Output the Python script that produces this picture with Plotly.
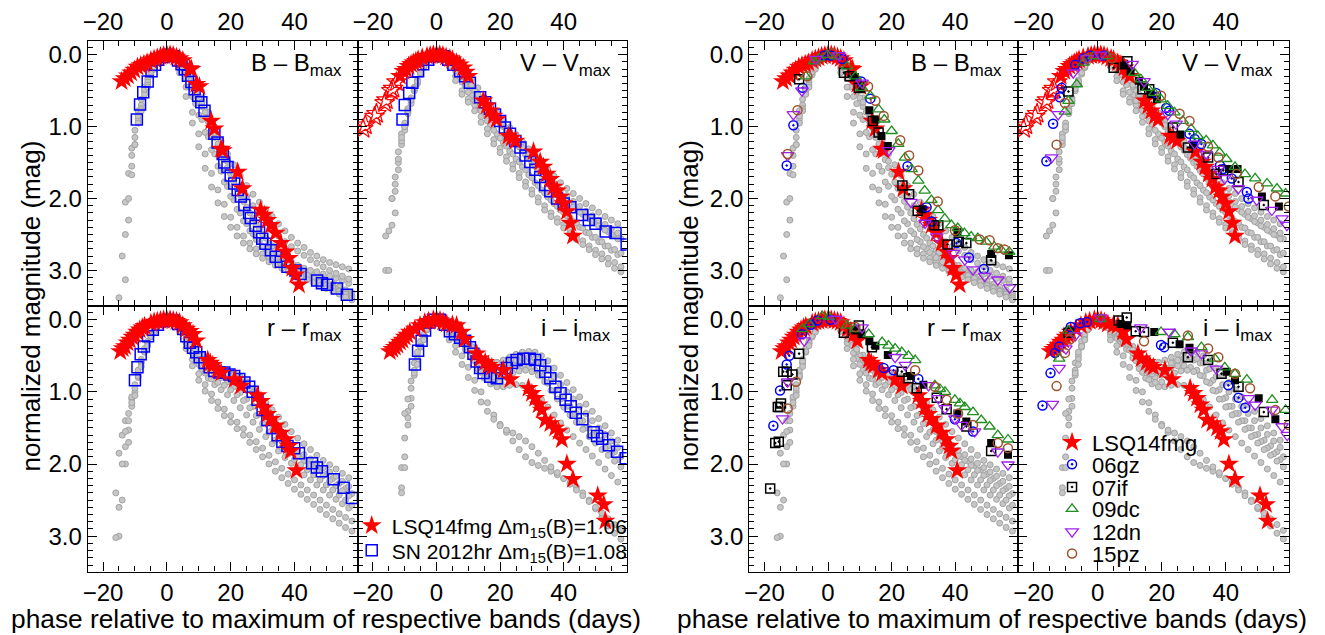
import plotly.graph_objects as go

# the page body adds an 8px margin, so the figure is drawn 8px in from the corner
OFF = 8
W, H = 1325 - OFF, 635 - OFF
FONT = "Liberation Sans, Arial, sans-serif"
BANDS = ["B", "V", "r", "i"]

# ---- grey comparison sample (phases on two interleaved grids) ----
GRID_ODD = list(range(-15, 58, 2))
GRID_EVEN = list(range(-16, 60, 2))

grey_B = [
    [3.38, 2.05, 1.30, 0.78, 0.45, 0.22, 0.08, 0.01, 0.01, 0.04, 0.12, 0.24, 0.40, 0.60, 0.80, 1.00, 1.20, 1.38,
     1.53, 1.68, 1.82, 1.94, 2.05, 2.15, 2.25, 2.35, 2.45, 2.54, 2.62, 2.68, 2.75, 2.80, 2.85, 2.89, 2.92, 2.95, 2.98],
    [None, 2.80, 1.65, 1.05, 0.62, 0.33, 0.14, 0.03, 0.00, 0.02, 0.10, 0.25, 0.42, 0.60, 0.80, 1.02, 1.24, 1.46, 1.66,
     1.86, 2.04, 2.20, 2.36, 2.50, 2.62, 2.72, 2.80, 2.87, 2.93, 2.98, 3.02, 3.07, 3.11, 3.15, 3.19, 3.23, 3.27, 3.31],
    [None, 3.13, 1.55, 0.90, 0.50, 0.25, 0.10, 0.02, 0.01, 0.08, 0.22, 0.45, 0.68, 0.90, 1.14, 1.38, 1.62, 1.83,
     2.02, 2.20, 2.35, 2.49, 2.60, 2.70, 2.78, 2.85, 2.91, 2.97, 3.02, 3.06, 3.10, 3.14, 3.18, 3.22, 3.26, 3.30, 3.34],
    [None, None, 2.00, 1.15, 0.70, 0.38, 0.16, 0.05, 0.01, 0.04, 0.18, 0.45, 0.80, 1.10, 1.38, 1.65, 1.88, 2.08, 2.26,
     2.40, 2.52, 2.62, 2.70, 2.77, 2.83, 2.88, 2.92, 2.96, 3.00, 3.04, 3.08, 3.12, 3.16, 3.20, 3.24, 3.28, 3.31, 3.35],
    [None, 2.50, 1.67, 0.95, 0.55, 0.28, 0.10, 0.02, 0.02, 0.06, 0.17, 0.33, 0.52, 0.72, 0.93, 1.15, 1.37, 1.57,
     1.77, 1.95, 2.12, 2.28, 2.42, 2.55, 2.66, 2.75, 2.82, 2.88, 2.93, 2.97, 3.00, 3.02, 3.05, 3.08, 3.11, 3.14, 3.18],
    [None, None, 2.30, 1.25, 0.75, 0.42, 0.18, 0.06, 0.01, 0.03, 0.13, 0.33, 0.58, 0.84, 1.08, 1.32, 1.55, 1.77, 1.97,
     2.15, 2.31, 2.45, 2.57, 2.67, 2.75, 2.82, 2.88, 2.93, 2.98, 3.03, 3.07, 3.11, 3.16, 3.21, 3.25, 3.29, 3.33, 3.38],
    [None, None, 1.40, 0.85, 0.48, 0.24, 0.09, 0.02, 0.01, 0.05, 0.14, 0.28, 0.46, 0.66, 0.87, 1.08, 1.29, 1.48,
     1.66, 1.82, 1.97, 2.10, 2.22, 2.33, 2.43, 2.52, 2.60, 2.67, 2.73, 2.79, 2.85, 2.90, 2.95, 3.00, 3.04, 3.08, 3.12],
    [None, None, None, 1.25, 0.78, 0.45, 0.20, 0.07, 0.02, 0.06, 0.25, 0.58, 0.95, 1.28, 1.58, 1.84, 2.06, 2.25, 2.40,
     2.52, 2.62, 2.70, 2.77, 2.83, 2.88, 2.93, 2.97, 3.01, 3.05, 3.09, 3.13, 3.17, 3.21, 3.25, 3.29, 3.33, 3.37, 3.41],
]
grey_V = [
    [2.45, 1.70, 1.10, 0.75, 0.45, 0.24, 0.08, 0.01, 0.00, 0.03, 0.07, 0.13, 0.22, 0.33, 0.46, 0.59, 0.70, 0.81,
     0.91, 1.01, 1.11, 1.21, 1.31, 1.41, 1.51, 1.60, 1.69, 1.78, 1.86, 1.93, 2.00, 2.07, 2.13, 2.19, 2.25, 2.30, 2.35],
    [3.00, 2.00, 1.35, 0.95, 0.60, 0.35, 0.15, 0.04, 0.00, 0.02, 0.08, 0.16, 0.25, 0.36, 0.50, 0.62, 0.74, 0.85, 0.95,
     1.06, 1.17, 1.28, 1.39, 1.50, 1.61, 1.72, 1.82, 1.92, 2.00, 2.08, 2.15, 2.22, 2.28, 2.34, 2.40, 2.46, 2.51, 2.56],
    [3.00, 1.90, 1.25, 0.80, 0.50, 0.26, 0.09, 0.02, 0.01, 0.06, 0.15, 0.28, 0.42, 0.56, 0.70, 0.84, 0.98, 1.10,
     1.22, 1.34, 1.45, 1.56, 1.67, 1.78, 1.88, 1.98, 2.07, 2.16, 2.24, 2.32, 2.40, 2.47, 2.54, 2.60, 2.66, 2.72, 2.78],
    [2.52, 2.00, 1.50, 1.00, 0.65, 0.38, 0.17, 0.05, 0.01, 0.04, 0.13, 0.30, 0.50, 0.61, 0.70, 0.86, 1.03, 1.18, 1.30,
     1.42, 1.53, 1.65, 1.77, 1.88, 1.99, 2.10, 2.20, 2.28, 2.36, 2.44, 2.52, 2.59, 2.66, 2.72, 2.77, 2.83, 2.89, 2.95],
    [None, 2.20, 1.20, 0.82, 0.50, 0.27, 0.10, 0.02, 0.01, 0.05, 0.12, 0.21, 0.32, 0.44, 0.56, 0.68, 0.80, 0.90,
     1.00, 1.11, 1.22, 1.33, 1.44, 1.55, 1.66, 1.77, 1.87, 1.96, 2.04, 2.12, 2.19, 2.26, 2.32, 2.38, 2.44, 2.50, 2.56],
    [None, 2.37, 1.60, 1.05, 0.68, 0.40, 0.18, 0.06, 0.01, 0.03, 0.10, 0.22, 0.38, 0.52, 0.64, 0.78, 0.92, 1.05, 1.16,
     1.27, 1.38, 1.49, 1.60, 1.71, 1.82, 1.92, 2.02, 2.11, 2.19, 2.27, 2.34, 2.41, 2.48, 2.54, 2.60, 2.66, 2.71, 2.76],
    [None, 1.80, 1.15, 0.78, 0.47, 0.25, 0.09, 0.02, 0.01, 0.04, 0.10, 0.19, 0.30, 0.42, 0.55, 0.67, 0.78, 0.88,
     0.98, 1.08, 1.18, 1.29, 1.40, 1.50, 1.60, 1.70, 1.79, 1.88, 1.96, 2.04, 2.11, 2.18, 2.24, 2.30, 2.36, 2.42, 2.48],
    [None, None, 1.45, 1.00, 0.63, 0.37, 0.16, 0.05, 0.01, 0.05, 0.16, 0.36, 0.55, 0.66, 0.78, 0.94, 1.10, 1.24, 1.36,
     1.48, 1.59, 1.71, 1.83, 1.94, 2.05, 2.16, 2.25, 2.33, 2.41, 2.49, 2.57, 2.64, 2.71, 2.78, 2.84, 2.91, 2.97, 3.02],
]
grey_r = [
    [1.85, 1.40, 1.10, 0.75, 0.42, 0.22, 0.08, 0.01, 0.00, 0.03, 0.10, 0.21, 0.35, 0.49, 0.60, 0.66, 0.69, 0.71,
     0.74, 0.79, 0.86, 0.95, 1.05, 1.15, 1.25, 1.35, 1.45, 1.55, 1.64, 1.72, 1.80, 1.88, 1.95, 2.01, 2.07, 2.13, 2.19],
    [2.40, 1.60, 1.30, 0.90, 0.55, 0.30, 0.14, 0.04, 0.00, 0.01, 0.08, 0.20, 0.37, 0.50, 0.62, 0.70, 0.73, 0.74, 0.77,
     0.81, 0.87, 0.96, 1.08, 1.23, 1.40, 1.55, 1.68, 1.77, 1.84, 1.90, 1.96, 2.02, 2.08, 2.14, 2.20, 2.27, 2.34, 2.41],
    [3.00, 2.00, 1.20, 0.80, 0.45, 0.24, 0.09, 0.02, 0.01, 0.06, 0.17, 0.35, 0.54, 0.70, 0.81, 0.90, 0.97, 1.04,
     1.12, 1.22, 1.32, 1.42, 1.52, 1.62, 1.72, 1.82, 1.91, 1.99, 2.07, 2.15, 2.22, 2.29, 2.36, 2.43, 2.49, 2.55, 2.61],
    [3.02, 2.50, 1.53, 1.00, 0.60, 0.33, 0.15, 0.05, 0.01, 0.03, 0.12, 0.32, 0.55, 0.75, 0.90, 1.03, 1.14, 1.24, 1.33,
     1.42, 1.51, 1.60, 1.69, 1.78, 1.88, 1.97, 2.06, 2.14, 2.22, 2.29, 2.36, 2.43, 2.50, 2.57, 2.63, 2.69, 2.74, 2.79],
    [None, 1.76, 1.07, 0.70, 0.40, 0.20, 0.07, 0.01, 0.01, 0.05, 0.14, 0.28, 0.44, 0.58, 0.68, 0.75, 0.80, 0.86,
     0.93, 1.01, 1.10, 1.20, 1.31, 1.42, 1.53, 1.63, 1.72, 1.80, 1.88, 1.95, 2.02, 2.09, 2.16, 2.23, 2.30, 2.37, 2.44],
    [None, 2.00, 1.40, 0.95, 0.58, 0.32, 0.15, 0.05, 0.01, 0.02, 0.10, 0.26, 0.46, 0.62, 0.74, 0.82, 0.87, 0.91, 0.97,
     1.04, 1.12, 1.22, 1.33, 1.44, 1.56, 1.67, 1.77, 1.86, 1.94, 2.01, 2.08, 2.15, 2.22, 2.29, 2.36, 2.43, 2.50, 2.57],
    [2.60, 1.55, 1.15, 0.78, 0.44, 0.23, 0.08, 0.02, 0.01, 0.04, 0.12, 0.25, 0.41, 0.55, 0.65, 0.70, 0.72, 0.74,
     0.77, 0.83, 0.91, 1.01, 1.13, 1.27, 1.41, 1.54, 1.65, 1.74, 1.81, 1.87, 1.93, 1.99, 2.05, 2.11, 2.17, 2.24, 2.31],
    [None, None, 1.70, 1.05, 0.65, 0.36, 0.17, 0.06, 0.02, 0.04, 0.16, 0.40, 0.64, 0.84, 0.99, 1.12, 1.23, 1.33, 1.42,
     1.51, 1.60, 1.70, 1.80, 1.90, 2.00, 2.10, 2.19, 2.27, 2.35, 2.42, 2.49, 2.56, 2.63, 2.70, 2.76, 2.82, 2.88, 2.93],
]
grey_i = [
    [None, None, 2.33, 1.27, 0.70, 0.35, 0.12, 0.01, 0.01, 0.06, 0.14, 0.22, 0.28, 0.37, 0.47, 0.55, 0.59, 0.59,
     0.56, 0.52, 0.48, 0.45, 0.44, 0.45, 0.50, 0.57, 0.67, 0.77, 0.87, 0.97, 1.07, 1.17, 1.27, 1.37, 1.47, 1.57, 1.67],
    [None, None, None, 1.64, 0.95, 0.50, 0.22, 0.05, 0.00, 0.05, 0.15, 0.22, 0.28, 0.36, 0.52, 0.70, 0.78, 0.80, 0.76,
     0.68, 0.60, 0.56, 0.55, 0.56, 0.60, 0.70, 0.84, 0.97, 1.08, 1.20, 1.30, 1.40, 1.50, 1.59, 1.67, 1.75, 1.83, 1.90],
    [None, None, 2.05, 1.46, 0.77, 0.38, 0.14, 0.02, 0.03, 0.11, 0.23, 0.32, 0.41, 0.53, 0.68, 0.81, 0.89, 0.93,
     0.93, 0.91, 0.90, 0.91, 0.95, 1.02, 1.11, 1.21, 1.32, 1.43, 1.53, 1.62, 1.71, 1.80, 1.89, 1.98, 2.07, 2.16, 2.25],
    [None, None, None, 1.90, 1.09, 0.55, 0.25, 0.07, 0.01, 0.08, 0.22, 0.36, 0.50, 0.66, 0.84, 1.00, 1.15, 1.32, 1.45,
     1.56, 1.68, 1.80, 1.90, 1.98, 2.02, 2.06, 2.10, 2.15, 2.20, 2.26, 2.32, 2.40, 2.50, 2.62, 2.74, 2.86, 2.96, 3.04],
    [None, None, None, 1.10, 0.60, 0.30, 0.10, 0.01, 0.02, 0.08, 0.18, 0.26, 0.34, 0.46, 0.60, 0.70, 0.75, 0.74,
     0.70, 0.66, 0.64, 0.64, 0.66, 0.70, 0.78, 0.88, 0.99, 1.10, 1.20, 1.30, 1.40, 1.50, 1.60, 1.69, 1.78, 1.86, 1.94],
    [None, None, None, 1.30, 0.85, 0.45, 0.20, 0.05, 0.01, 0.06, 0.17, 0.26, 0.33, 0.42, 0.57, 0.73, 0.83, 0.87, 0.86,
     0.80, 0.74, 0.71, 0.70, 0.72, 0.77, 0.86, 0.98, 1.10, 1.21, 1.32, 1.42, 1.52, 1.62, 1.71, 1.80, 1.88, 1.96, 2.04],
    [None, None, 2.40, 1.36, 0.74, 0.37, 0.13, 0.02, 0.02, 0.07, 0.16, 0.24, 0.31, 0.42, 0.56, 0.66, 0.71, 0.71,
     0.66, 0.60, 0.56, 0.53, 0.52, 0.54, 0.60, 0.68, 0.79, 0.90, 1.00, 1.10, 1.20, 1.30, 1.40, 1.50, 1.59, 1.68, 1.77],
    [None, None, None, 2.05, 1.20, 0.62, 0.28, 0.08, 0.02, 0.10, 0.28, 0.45, 0.62, 0.80, 0.98, 1.14, 1.27, 1.38, 1.47,
     1.53, 1.57, 1.62, 1.68, 1.76, 1.85, 1.95, 2.04, 2.12, 2.20, 2.28, 2.36, 2.44, 2.52, 2.60, 2.68, 2.76, 2.84, 2.92],
]
GREY = {"B": grey_B, "V": grey_V, "r": grey_r, "i": grey_i}

# ---- LSQ14fmg ----
lsq_t = {
    "B": [-14.2, -13.2, -12.2, -11.2, -10.2, -9.2, -8.2, -7.2, -6.2, -5.0, -4.0, -3.0, -2.0, -1.0, 0.0, 1.0, 2.0, 3.0,
          4.0, 5.0, 7.2, 7.7, 9.2, 10.2, 13.9, 14.9, 17.0, 17.5, 22.2, 23.7, 29.4, 30.5, 31.5, 32.6, 34.1, 35.7, 37.2,
          38.2, 39.3, 40.3, 41.4],
    "V": [-11.5, -10.4, -9.6, -8.8, -8.0, -7.3, -6.5, -5.8, -4.5, -3.0, -2.0, -1.0, 0.0, 1.0, 2.0, 3.0, 4.2, 5.0, 6.3,
          7.3, 8.4, 9.2, 10.0, 14.7, 15.8, 16.8, 17.9, 18.9, 22.6, 23.6, 24.8, 30.5, 32.6, 33.6, 34.7, 35.8, 36.8, 37.9,
          38.9, 40.0, 41.0, 42.1, 42.9],
    "r": [-14.6, -13.8, -13.1, -12.3, -11.6, -10.8, -10.1, -9.3, -8.5, -7.7, -7.0, -5.0, -4.0, -3.0, -2.0, -1.0, 0.0,
          1.0, 2.0, 3.0, 4.0, 5.0, 6.1, 7.2, 8.2, 9.2, 12.8, 13.6, 14.4, 15.9, 17.0, 21.2, 23.2, 28.4, 29.5, 30.5, 31.5,
          32.6, 34.1, 35.7, 37.2, 38.2, 38.8, 40.6],
    "i": [-14.7, -13.9, -13.1, -12.3, -11.5, -10.7, -10.0, -9.2, -8.4, -6.8, -5.2, -3.7, -2.5, -1.0, 0.0, 1.1, 2.1, 3.2,
          5.0, 6.3, 7.9, 9.0, 12.6, 13.7, 15.3, 16.3, 17.4, 21.0, 23.2, 28.9, 30.0, 31.0, 32.1, 33.1, 34.2, 35.8, 37.3,
          38.4, 39.4, 41.0, 42.9, 50.7, 52.6, 53.1],
}
lsq_m = {
    "B": [0.37, 0.33, 0.29, 0.25, 0.21, 0.17, 0.15, 0.13, 0.11, 0.08, 0.06, 0.04, 0.02, 0.01, 0.00, 0.00, 0.01, 0.03,
          0.05, 0.08, 0.19, 0.20, 0.41, 0.44, 0.92, 1.03, 1.31, 1.33, 1.63, 1.86, 2.16, 2.23, 2.30, 2.37, 2.48, 2.62, 2.74,
          2.83, 2.97, 3.06, 3.20],
    "V": [0.30, 0.23, 0.20, 0.16, 0.13, 0.11, 0.09, 0.07, 0.04, 0.02, 0.01, 0.00, 0.00, 0.00, 0.01, 0.03, 0.05, 0.07,
          0.11, 0.14, 0.18, 0.24, 0.30, 0.64, 0.71, 0.78, 0.85, 0.90, 1.13, 1.16, 1.20, 1.35, 1.49, 1.56, 1.66, 1.73, 1.84,
          1.89, 1.98, 2.07, 2.18, 2.34, 2.52],
    "r": [0.44, 0.40, 0.37, 0.32, 0.28, 0.24, 0.21, 0.17, 0.14, 0.11, 0.09, 0.05, 0.03, 0.02, 0.01, 0.00, 0.00, 0.00,
          0.01, 0.02, 0.04, 0.08, 0.13, 0.16, 0.20, 0.29, 0.56, 0.60, 0.63, 0.70, 0.74, 0.83, 0.92, 1.05, 1.13, 1.22, 1.31,
          1.38, 1.47, 1.57, 1.66, 1.75, 1.82, 2.09],
    "i": [0.44, 0.41, 0.38, 0.35, 0.31, 0.28, 0.24, 0.21, 0.17, 0.13, 0.08, 0.04, 0.02, 0.00, 0.00, 0.01, 0.03, 0.06,
          0.07, 0.08, 0.17, 0.27, 0.47, 0.54, 0.59, 0.63, 0.66, 0.70, 0.83, 0.95, 1.02, 1.09, 1.18, 1.25, 1.39, 1.44, 1.50,
          1.55, 1.66, 2.00, 2.21, 2.44, 2.56, 2.79],
}
# early V points drawn as open stars
lsq_V_early_t = [-23.1, -22.4, -19.5, -18.9, -16.3, -15.8, -14.2, -13.7, -12.6]
lsq_V_early_m = [1.03, 0.98, 0.86, 0.82, 0.67, 0.63, 0.50, 0.47, 0.38]

# ---- SN 2012hr ----
hr_t = {
    "B": [-9.4, -8.4, -7.4, -6.0, -4.8, -3.7, -2.7, -1.2, 0.4, 2.0, 3.5, 4.6, 5.6, 6.6, 7.7, 8.7, 9.8, 10.8, 11.8, 14.9,
          15.9, 17.5, 18.0, 19.0, 20.0, 21.1, 22.2, 23.2, 24.3, 25.8, 26.3, 27.8, 28.9, 29.9, 30.9, 32.6, 34.1, 35.7,
          37.8, 40.3, 41.9, 47.1, 48.6, 50.2, 53.3, 56.4],
    "V": [-10.7, -10.0, -8.6, -7.6, -5.8, -4.2, -2.6, -1.1, 0.5, 2.1, 3.7, 5.3, 7.4, 9.0, 10.5, 13.7, 15.3, 16.8, 18.4,
          20.0, 21.5, 23.1, 24.8, 26.4, 28.0, 29.5, 31.1, 32.6, 34.2, 35.8, 37.9, 40.0, 42.1, 45.8, 47.9, 50.0, 53.2,
          56.3, 59.8],
    "r": [-10.0, -9.2, -8.2, -7.2, -5.9, -4.4, -2.8, -1.2, 0.4, 2.0, 3.5, 5.1, 6.1, 7.2, 8.2, 9.2, 10.3, 11.8, 13.4,
          14.9, 16.5, 18.0, 19.6, 21.1, 22.7, 24.3, 25.8, 26.9, 28.4, 30.0, 31.5, 33.1, 34.7, 36.2, 37.8, 39.9, 41.4,
          45.5, 47.0, 48.6, 52.3, 55.4, 58.0],
    "i": [-6.8, -5.8, -4.7, -3.6, -2.2, -1.1, 1.0, 2.6, 4.2, 5.8, 7.4, 9.0, 10.5, 11.6, 12.6, 13.7, 14.8, 16.9, 19.0,
          20.5, 22.1, 23.7, 25.2, 27.3, 29.4, 31.0, 32.6, 34.2, 35.8, 37.4, 39.0, 40.6, 42.2, 43.8, 45.9, 49.4, 50.5,
          52.1, 54.2, 56.8, 59.5],
}
hr_m = {
    "B": [0.90, 0.69, 0.52, 0.37, 0.23, 0.14, 0.07, 0.03, 0.00, 0.02, 0.08, 0.13, 0.20, 0.29, 0.38, 0.48, 0.57, 0.66,
          0.78, 1.10, 1.22, 1.38, 1.50, 1.56, 1.68, 1.79, 1.88, 1.97, 2.09, 2.20, 2.27, 2.38, 2.47, 2.56, 2.63, 2.72,
          2.81, 2.88, 2.95, 3.00, 3.05, 3.14, 3.18, 3.20, 3.25, 3.34],
    "V": [0.90, 0.70, 0.53, 0.39, 0.23, 0.13, 0.07, 0.02, 0.00, 0.02, 0.07, 0.14, 0.23, 0.30, 0.39, 0.59, 0.66, 0.75,
          0.83, 0.92, 1.01, 1.10, 1.20, 1.29, 1.40, 1.49, 1.60, 1.70, 1.81, 1.90, 2.00, 2.07, 2.12, 2.23, 2.30, 2.35,
          2.46, 2.48, 2.64],
    "r": [0.84, 0.66, 0.48, 0.37, 0.23, 0.14, 0.07, 0.02, 0.00, 0.01, 0.06, 0.13, 0.23, 0.32, 0.39, 0.45, 0.52, 0.60,
          0.66, 0.71, 0.73, 0.73, 0.76, 0.78, 0.82, 0.87, 0.93, 1.00, 1.11, 1.25, 1.39, 1.50, 1.60, 1.69, 1.75, 1.78,
          1.85, 1.99, 2.05, 2.10, 2.21, 2.33, 2.47],
    "i": [0.62, 0.43, 0.29, 0.15, 0.04, 0.00, 0.00, 0.07, 0.16, 0.20, 0.25, 0.29, 0.38, 0.47, 0.58, 0.67, 0.74, 0.79,
          0.81, 0.74, 0.67, 0.60, 0.56, 0.54, 0.54, 0.56, 0.63, 0.72, 0.81, 0.93, 1.02, 1.11, 1.20, 1.29, 1.38, 1.56,
          1.61, 1.65, 1.74, 1.83, 1.92],
}

# ---- comparison SNe ----
gz06_t = {"B": [-13.0, -10.9, -8.0, -1.2, 0.8, 4.5, 10.4, 13.3, 25.0, 31.0, 32.6, 40.4, 44.3, 49.0],
          "V": [-16.0, -13.9, -11.8, -11.2, -7.0, -4.4, -2.3, 1.9, 18.2, 21.4, 22.4, 28.7, 30.3, 32.4, 38.2, 39.2,
                41.9, 46.6, 47.1],
          "r": [-17.2, -15.1, -13.0, -12.2, -8.2, -5.4, -3.3, 0.8, 17.5, 20.6, 28.4, 39.9, 45.6],
          "i": [-17.2, -14.7, -13.3, -12.0, -8.4, -5.5, -3.3, 19.8, 20.8, 40.8, 44.0, 46.1]}
gz06_m = {"B": [1.54, 0.98, 0.46, 0.01, 0.01, 0.06, 0.37, 0.61, 1.55, 2.12, 2.32, 2.62, 2.82, 2.98],
          "V": [1.48, 0.96, 0.59, 0.46, 0.14, 0.05, 0.01, 0.01, 0.53, 0.74, 0.78, 1.10, 1.17, 1.24, 1.54, 1.59,
                1.72, 1.91, 2.00],
          "r": [1.47, 0.98, 0.62, 0.50, 0.20, 0.07, 0.01, 0.00, 0.67, 0.70, 0.82, 1.38, 1.55],
          "i": [1.19, 0.74, 0.46, 0.37, 0.10, 0.05, 0.03, 0.35, 0.38, 0.91, 1.08, 1.22]}

if07_t = {"B": [-9.1, 5.0, 6.8, 9.7, 14.1, 15.9, 23.4, 25.5, 28.2, 33.4, 34.7, 37.6, 41.1, 43.5, 51.3],
          "V": [-9.1, 5.0, 9.3, 14.0, 16.1, 23.5, 28.2, 34.5, 37.1, 39.2, 44.0, 51.9],
          "r": [-18.2, -16.6, -15.5, -15.8, -15.1, -14.8, -14.1, -13.0, -11.2, -13.0, -9.1, 5.0, 9.7, 13.8, 23.2,
                25.3, 27.9, 34.2, 37.3, 43.5, 51.3],
          "i": [-9.1, 6.6, 9.1, 11.9, 14.5, 23.5, 28.2, 34.5, 38.7, 44.0, 51.9]}
if07_m = {"B": [0.34, 0.25, 0.30, 0.46, 0.92, 1.08, 1.82, 1.94, 2.17, 2.37, 2.37, 2.64, 2.60, 2.62, 2.86],
          "V": [0.51, 0.18, 0.09, 0.48, 0.48, 1.01, 1.29, 1.43, 1.66, 1.61, 1.77, 2.09],
          "r": [2.34, 1.71, 1.69, 1.21, 1.21, 1.16, 0.72, 0.72, 0.76, 0.91, 0.47, 0.18, 0.08, 0.38, 0.72, 0.81,
                0.95, 1.08, 1.24, 1.48, 1.82],
          "i": [0.18, 0.01, -0.03, 0.16, 0.17, 0.32, 0.52, 0.56, 0.75, 0.93, 1.28]}
# 07if, second photometric set (filled squares)
if07b_t = {"B": [8.4, 10.5, 13.0, 14.9, 16.8, 18.8, 29.7, 40.7, 51.3, 56.9],
           "V": [8.2, 10.3, 12.9, 14.5, 16.6, 18.5, 25.9, 29.8, 41.0, 43.7, 51.3, 56.6],
           "r": [8.4, 10.5, 13.0, 14.9, 18.8, 26.1, 30.0, 40.7, 43.5, 51.3, 56.6],
           "i": [7.2, 9.3, 17.7, 25.6, 28.7, 40.3, 42.9, 50.3, 55.5]}
if07b_m = {"B": [0.31, 0.48, 0.77, 0.90, 1.13, 1.27, 2.15, 2.47, 2.77, 2.79],
           "V": [0.15, 0.23, 0.36, 0.44, 0.55, 0.62, 1.11, 1.25, 1.59, 1.59, 1.97, 2.11],
           "r": [0.15, 0.20, 0.30, 0.36, 0.49, 0.78, 0.90, 1.30, 1.41, 1.71, 1.87],
           "i": [0.06, 0.08, 0.17, 0.34, 0.39, 0.72, 0.84, 1.09, 1.38]}

dc09_t = {"B": [-7.0, -4.4, -2.8, -0.2, 2.4, 6.0, 8.6, 10.7, 13.3, 15.9, 17.7, 20.0, 22.1, 24.2, 26.3, 28.4, 30.4,
                32.5, 34.6, 36.7, 38.8, 40.8, 42.9, 45.0, 47.1, 49.7, 52.3, 54.4, 57.0],
          "V": [-10.2, -9.1, -6.5, -4.4, -1.3, 3.0, 11.4, 13.5, 15.6, 17.7, 19.8, 21.9, 24.0, 26.6, 29.2, 31.3, 33.9,
                36.0, 38.1, 40.2, 42.9, 46.0, 49.2, 52.9, 56.0, 58.7],
          "r": [-8.0, -5.9, -1.8, 0.3, 6.0, 8.6, 12.8, 17.0, 19.0, 21.1, 23.2, 25.3, 27.4, 33.6, 35.2, 36.8, 39.9,
                41.5, 43.0, 45.6, 48.2, 50.8, 53.4, 56.6],
          "i": [-12.0, -9.1, 0.9, 19.8, 24.0, 28.2, 32.4, 36.6, 39.7, 42.9, 46.6, 54.5, 58.7]}
dc09_m = {"B": [0.30, 0.09, 0.05, 0.00, 0.02, 0.16, 0.30, 0.46, 0.57, 0.76, 0.90, 1.06, 1.24, 1.43, 1.59, 1.75, 1.89,
                2.02, 2.16, 2.28, 2.37, 2.41, 2.48, 2.53, 2.55, 2.60, 2.67, 2.71, 2.74],
          "V": [0.79, 0.64, 0.41, 0.11, 0.02, 0.02, 0.25, 0.34, 0.46, 0.53, 0.62, 0.71, 0.80, 0.92, 1.03, 1.13, 1.19,
                1.26, 1.36, 1.45, 1.56, 1.66, 1.72, 1.79, 1.86, 1.93],
          "r": [0.13, 0.06, -0.05, -0.04, 0.08, 0.13, 0.20, 0.31, 0.36, 0.40, 0.45, 0.50, 0.56, 0.91, 0.96, 1.00,
                1.11, 1.16, 1.21, 1.28, 1.39, 1.48, 1.60, 1.66],
          "i": [0.54, 0.15, -0.01, 0.17, 0.20, 0.24, 0.38, 0.54, 0.66, 0.75, 0.83, 1.11, 1.25]}

dn12_t = {"B": [-12.7, -10.9, -8.2, -3.9, 3.4, 10.7, 19.1, 26.1, 30.5, 34.2, 39.4, 43.0, 45.6, 49.3, 53.4, 57.1],
          "V": [-14.4, -12.3, -7.6, -3.3, 0.9, 10.8, 14.5, 21.9, 24.5, 30.3, 33.9, 37.6, 39.7, 43.9, 49.7, 54.4, 57.6,
                59.1],
          "r": [-14.3, -12.7, -7.5, 2.4, 10.7, 21.1, 24.3, 31.6, 34.7, 36.8, 39.9, 42.0, 46.1, 53.4, 56.6],
          "i": [-14.1, -12.0, -9.9, -7.0, 0.9, 13.5, 22.4, 29.2, 32.4, 37.1, 47.1, 49.2, 54.5, 57.6, 59.2]}
dn12_m = {"B": [1.40, 0.83, 0.50, 0.06, 0.01, 0.39, 1.33, 2.05, 2.34, 2.53, 2.76, 2.85, 2.99, 3.08, 3.13, 3.24],
          "V": [1.43, 0.83, 0.25, 0.05, 0.00, 0.13, 0.37, 0.83, 0.96, 1.24, 1.38, 1.59, 1.72, 1.86, 2.02, 2.16, 2.28,
                2.37],
          "r": [1.37, 0.86, 0.29, -0.01, 0.11, 0.52, 0.63, 0.91, 1.09, 1.23, 1.37, 1.46, 1.55, 1.83, 2.01],
          "i": [1.17, 0.67, 0.40, 0.22, -0.03, 0.11, 0.17, 0.43, 0.47, 0.68, 1.09, 1.18, 1.25, 1.48, 1.60]}

pz15_t = {"B": [-12.7, -9.6, -6.5, 1.3, 12.6, 14.9, 17.5, 22.7, 25.5, 28.4, 34.5, 39.9, 47.7, 50.8, 53.4, 55.5],
          "V": [-12.8, -10.2, -3.3, 4.5, 19.8, 25.6, 28.7, 34.5, 37.7, 43.4, 50.3, 55.5, 59.7],
          "r": [-12.7, -10.1, 4.5, 8.6, 27.4, 33.6, 37.3, 40.9, 45.6, 53.4, 56.6],
          "i": [-12.8, -10.2, -8.6, 14.5, 28.2, 34.5, 37.7, 42.9, 47.6, 55.5, 59.7]}
pz15_m = {"B": [1.38, 0.77, 0.30, -0.02, 0.44, 0.64, 0.85, 1.19, 1.40, 1.61, 2.04, 2.44, 2.57, 2.58, 2.69, 2.71],
          "V": [1.25, 0.67, 0.05, 0.05, 0.57, 0.82, 0.92, 1.28, 1.43, 1.66, 1.84, 1.97, 2.11],
          "r": [1.23, 0.86, 0.06, 0.10, 0.70, 0.93, 1.11, 1.30, 1.46, 1.71, 1.78],
          "i": [0.92, 0.46, 0.27, 0.30, 0.22, 0.40, 0.52, 0.75, 0.95, 1.25, 1.46]}

# ---- layout geometry (pixels of the reference picture) ----
XDOM = [(83, 354), (354, 624), (747, 1017), (1017, 1289)]
YDOM = [(36, 303), (303, 571)]
POS = {"B": (0, 0), "V": (0, 1), "r": (1, 0), "i": (1, 1)}
LABELS = {"B": "B \u2013 B<sub>max</sub>", "V": "V \u2013 V<sub>max</sub>",
          "r": "r \u2013 r<sub>max</sub>", "i": "i \u2013 i<sub>max</sub>"}


def fx(px):
    return (px - OFF) / W


def fy(py):
    return 1 - (py - OFF) / H


def axis_num(group, band):
    row, col = POS[band]
    return 1 + group * 4 + row * 2 + col


def ax(n, kind):
    return kind if n == 1 else f"{kind}{n}"


fig = go.Figure()


def add(n, t, m, marker, name=None, legend="legend", show=False):
    fig.add_trace(go.Scatter(x=t, y=m, mode="markers", marker=marker, name=name,
                             xaxis=ax(n, "x"), yaxis=ax(n, "y"), legend=legend,
                             showlegend=show, hoverinfo="skip"))


grey_mk = dict(symbol="circle", size=6, color="#c6c6c6", line=dict(color="#a2a2a2", width=1))
star_mk = dict(symbol="star", size=15, color="#ff0000", line=dict(width=0))
star_open_mk = dict(symbol="star-open", size=15, color="#ff0000", line=dict(width=1.2))
hr_mk = dict(symbol="square-open", size=11, color="#0000ff", line=dict(width=1.5))

COMPARE = [
    ("06gz", gz06_t, gz06_m, dict(symbol="circle-open-dot", size=9, color="#0000ff", line=dict(width=1.5))),
    ("07if", if07_t, if07_m, dict(symbol="square-open-dot", size=9, color="#000000", line=dict(width=1.5))),
    ("09dc", dc09_t, dc09_m, dict(symbol="triangle-up-open", size=10, color="#1f8f1f", line=dict(width=1.3))),
    ("12dn", dn12_t, dn12_m, dict(symbol="triangle-down-open", size=11, color="#a020f0", line=dict(width=1.3))),
    ("15pz", pz15_t, pz15_m, dict(symbol="circle-open", size=9, color="#a0522d", line=dict(width=1.5))),
]
if07b_mk = dict(symbol="square", size=8, color="#000000", line=dict(width=0))

for g in range(2):
    for band in BANDS:
        n = axis_num(g, band)
        gx, gy = [], []
        for j, curve in enumerate(GREY[band]):
            grid = GRID_ODD if j % 2 == 0 else GRID_EVEN
            for t, m in zip(grid, curve):
                gx.append(t)
                gy.append(m)
        add(n, gx, gy, grey_mk)
        first = band == "B"
        if g == 0:
            add(n, hr_t[band], hr_m[band], hr_mk, "SN 2012hr \u0394m<sub>15</sub>(B)=1.08", "legend2", first)
            if band == "V":
                add(n, lsq_V_early_t, lsq_V_early_m, star_open_mk)
            add(n, lsq_t[band], lsq_m[band], star_mk, "LSQ14fmg \u0394m<sub>15</sub>(B)=1.06", "legend", first)
        else:
            if band == "V":
                add(n, lsq_V_early_t, lsq_V_early_m, star_open_mk)
            add(n, lsq_t[band], lsq_m[band], star_mk, "LSQ14fmg", "legend3", first)
            add(n, if07b_t[band], if07b_m[band], if07b_mk)
            for k, (name, tt, mm, mk) in enumerate(COMPARE):
                add(n, tt[band], mm[band], mk, name, f"legend{4 + k}", first)

tick_font = dict(family=FONT, size=24, color="black")
axis_common = dict(showline=True, linecolor="black", linewidth=1.3, mirror="allticks", ticks="inside",
                   tickwidth=1.3, ticklen=9, tickcolor="black", showgrid=False, zeroline=False,
                   tickfont=tick_font)

layout_axes = {}
annotations = []
for g in range(2):
    for band in BANDS:
        n = axis_num(g, band)
        row, col = POS[band]
        x0, x1 = XDOM[g * 2 + col]
        y0, y1 = YDOM[row]
        layout_axes[ax(n, "xaxis")] = dict(
            axis_common, domain=[fx(x0), fx(x1)], range=[-24.8, 59.8], anchor=ax(n, "y"),
            tickvals=[-20, 0, 20, 40], side="top" if row == 0 else "bottom",
            minor=dict(ticks="inside", ticklen=5, tickwidth=1.1, tickcolor="black", dtick=5, tick0=0))
        layout_axes[ax(n, "yaxis")] = dict(
            axis_common, domain=[fy(y1), fy(y0)], range=[3.49, -0.195], anchor=ax(n, "x"),
            tick0=0, dtick=1, tickformat=".1f", showticklabels=(col == 0),
            minor=dict(ticks="inside", ticklen=5, tickwidth=1.1, tickcolor="black", dtick=0.1, tick0=0))
        annotations.append(dict(text=LABELS[band], xref="paper", yref="paper", x=fx(x1 - 14),
                                y=fy(y0 + 6), xanchor="right", yanchor="top", showarrow=False,
                                font=dict(family=FONT, size=24, color="black")))

for cx in (26, 686):
    annotations.append(dict(text="normalized magnitude (mag)", xref="paper", yref="paper", x=fx(cx),
                            y=fy(303), textangle=-90, showarrow=False, xanchor="center", yanchor="middle",
                            font=dict(family=FONT, size=26, color="black")))
for cx in (322, 991):
    annotations.append(dict(text="phase relative to maximum of respective bands (days)", xref="paper",
                            yref="paper", x=fx(cx), y=fy(619), showarrow=False, xanchor="center",
                            yanchor="middle", font=dict(family=FONT, size=26.3, color="black")))


def legend_box(px, py, size):
    return dict(x=fx(px), y=fy(py), xanchor="left", yanchor="middle", bgcolor="rgba(0,0,0,0)",
                font=dict(family=FONT, size=size, color="black"), borderwidth=0)


legends = {"legend": legend_box(348, 525, 21), "legend2": legend_box(348, 550, 21)}
for k, py in enumerate([441, 463, 486, 508, 531, 553]):
    legends[f"legend{3 + k}"] = legend_box(1051, py, 22)

fig.update_layout(
    width=W, height=H, margin=dict(l=0, r=0, t=0, b=0),
    paper_bgcolor="white", plot_bgcolor="white",
    font=dict(family=FONT, color="black"),
    annotations=annotations,
    **legends,
    **layout_axes,
)

fig.write_html("out.html")
